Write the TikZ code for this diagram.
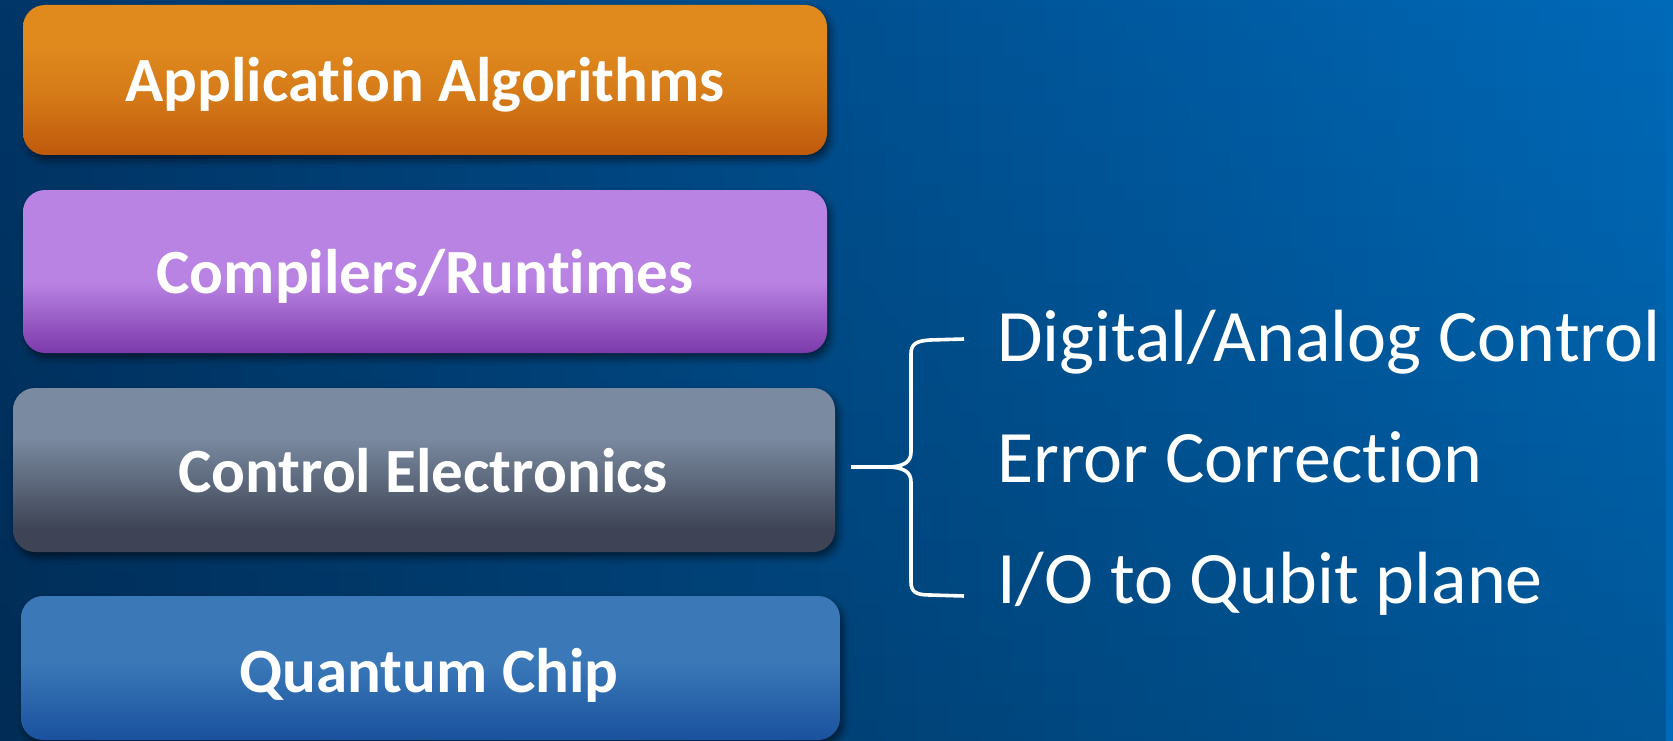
\documentclass[tikz,border=0pt]{standalone}
\usepackage{fontspec}
\setmainfont{Carlito}[RawFeature={-liga}]
\usetikzlibrary{shadows.blur,fadings}
\definecolor{bgleft}{HTML}{003668}
\definecolor{bgright}{HTML}{006AB9}
\definecolor{otop}{HTML}{E08A1E}
\definecolor{omid}{HTML}{D57A18}
\definecolor{obot}{HTML}{BF590C}
\definecolor{ptop}{HTML}{B983E3}
\definecolor{pbot}{HTML}{7C3AAB}
\definecolor{gtop}{HTML}{7A8AA0}
\definecolor{gbot}{HTML}{3E4455}
\definecolor{btop}{HTML}{3A78B8}
\definecolor{bbot}{HTML}{1A519E}
\pgfdeclareverticalshading{orangesh}{100bp}{color(0bp)=(obot); color(25bp)=(obot); color(45bp)=(omid); color(62bp)=(otop); color(75bp)=(otop); color(100bp)=(otop)}
\pgfdeclareverticalshading{purplesh}{100bp}{color(0bp)=(pbot); color(25bp)=(pbot); color(47bp)=(ptop); color(75bp)=(ptop); color(100bp)=(ptop)}
\pgfdeclareverticalshading{graysh}{100bp}{color(0bp)=(gbot); color(25bp)=(gbot); color(32bp)=(gbot); color(60bp)=(gtop); color(75bp)=(gtop); color(100bp)=(gtop)}
\pgfdeclareverticalshading{bluesh}{100bp}{color(0bp)=(bbot); color(25bp)=(bbot); color(52bp)=(btop); color(75bp)=(btop); color(100bp)=(btop)}
\tikzset{
  layerbox/.style={rectangle, rounded corners=22pt, inner sep=0pt, shade,
    blur shadow={shadow xshift=3pt, shadow yshift=-5pt, shadow blur radius=7pt, shadow opacity=55}},
  layertext/.style={text=white, font=\fontsize{63}{70}\selectfont\bfseries, anchor=base, inner sep=0pt},
  itemtext/.style={text=white, font=\fontsize{74}{82}\selectfont, anchor=base west, inner sep=0pt},
  bracepath/.style={draw=white, line width=3.6pt, line join=round}
}
\begin{document}
\begin{tikzpicture}[x=1pt, y=-1pt]
\useasboundingbox (0,0) rectangle (1673,741);
\fill[left color=bgleft, right color=bgright] (0,0) rectangle (1673,741);
\fill[black, opacity=0.18, path fading=north] (0,0) rectangle (1673,741);
% layer boxes
\node[layerbox, shading=orangesh, minimum width=804pt, minimum height=150pt] (app) at (425,80) {};
\node[layerbox, shading=purplesh, minimum width=804pt, minimum height=163pt] (comp) at (425,271.5) {};
\node[layerbox, shading=graysh, minimum width=822pt, minimum height=164pt] (ctrl) at (424,470) {};
\node[layerbox, shading=bluesh, minimum width=819pt, minimum height=144pt] (chip) at (430.5,668) {};
% labels
\node[layertext] (tapp) at (425,102) {Application Algorithms};
\node[layertext] (tcomp) at (425,293) {Compilers/Runtimes};
\node[layertext] (tctrl) at (423,492) {Control Electronics};
\node[layertext] (tchip) at (429,692) {Quantum Chip};
% brace
\coordinate (btip) at (851,467);
\coordinate (bmid) at (886,467);
\coordinate (btop) at (964,339);
\coordinate (bbot) at (964,596);
\draw[bracepath] (btop) -- (930,340) .. controls (916,341) and (911,344) .. (911,354)
  -- (911,452) .. controls (911,462) and (904,467) .. (bmid) -- (btip);
\draw[bracepath] (bmid) .. controls (904,467) and (911,472) .. (911,482)
  -- (911,582) .. controls (911,592) and (916,595) .. (930,595) -- (bbot);
% items
\node[itemtext] (i1) at (997,361) {Digital/Analog Control};
\node[itemtext] (i2) at (997,482) {Error Correction};
\node[itemtext] (i3) at (997,603) {I/O to Qubit plane};
\end{tikzpicture}
\end{document}
